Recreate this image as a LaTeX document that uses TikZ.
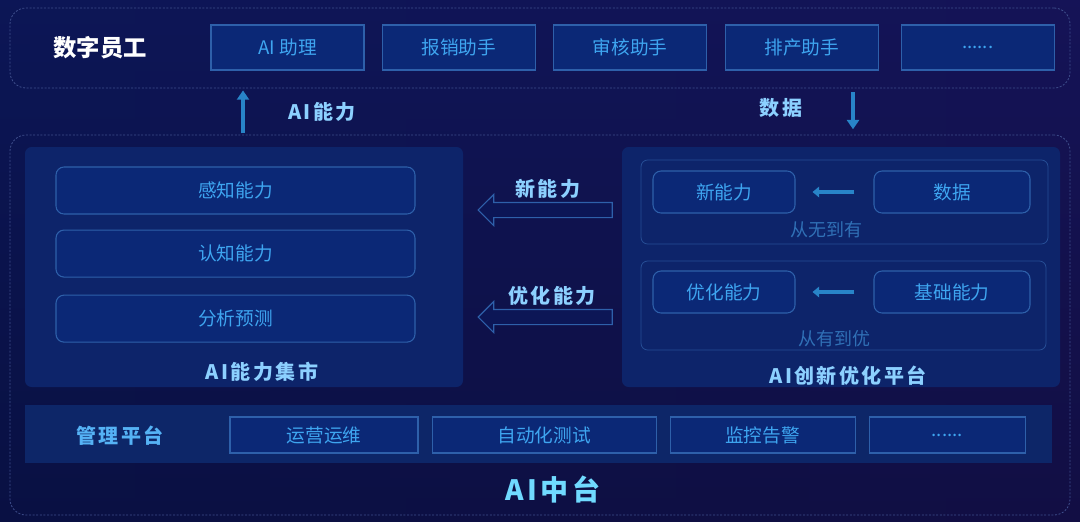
\documentclass[tikz,border=0pt]{standalone}
\usepackage{fontspec}
\setmainfont{Noto Sans CJK SC}
\newfontfamily\widefont[LetterSpace=12]{Noto Sans CJK SC}
\usepackage{tikz}
\usetikzlibrary{positioning,shapes.arrows,arrows.meta,calc}

\definecolor{bgtop}{RGB}{12,22,86}
\definecolor{bgbot}{RGB}{6,11,48}
\definecolor{bgright}{RGB}{30,18,88}
\definecolor{panelfill}{RGB}{13,36,106}
\definecolor{bandfill}{RGB}{13,38,104}
\definecolor{boxfill}{RGB}{11,40,118}
\definecolor{boxline}{RGB}{46,96,170}
\definecolor{grpline}{RGB}{38,78,150}
\definecolor{txtblue}{RGB}{62,165,240}
\definecolor{titleblue}{RGB}{140,208,255}
\definecolor{dashline}{RGB}{62,78,140}
\definecolor{dimtxt}{RGB}{48,112,182}
\definecolor{arrowblue}{RGB}{40,132,200}

\begin{document}
\begin{tikzpicture}
[x=0.75pt,y=-0.75pt,
 >={Triangle[width=9pt,length=7pt]},
 frame/.style={draw=dashline,dash pattern=on 1.5pt off 1.2pt,line width=0.6pt,rounded corners=12pt},
 panel/.style={fill=panelfill,rounded corners=5pt},
 topbox/.style={draw=boxline,fill=boxfill,line width=0.8pt,text=txtblue,
   minimum width=114.75pt,minimum height=33.75pt,inner sep=0pt,font=\fontsize{14}{16}\selectfont},
 capbox/.style={topbox,rounded corners=6pt,minimum width=269.25pt,minimum height=35.25pt},
 stagebox/.style={topbox,rounded corners=6pt,minimum height=31.5pt},
 group/.style={draw=grpline,line width=0.6pt,rounded corners=5pt},
 mgmtbox/.style={topbox,minimum height=27pt},
 title/.style={text=titleblue,font=\widefont\bfseries\fontsize{15}{17}\selectfont},
 dimlabel/.style={text=dimtxt,font=\fontsize{13.5}{15}\selectfont},
 flowarr/.style={->,draw=arrowblue,line width=3pt},
 stagearr/.style={-{Triangle[width=8pt,length=5pt]},draw=arrowblue,line width=3pt,
   shorten <=14.25pt,shorten >=12.75pt},
 hollow/.style={single arrow,shape border rotate=180,draw=boxline,fill=bgtop,line width=0.8pt,
   minimum height=100.5pt,minimum width=22.5pt,single arrow head extend=6pt,
   inner xsep=0pt,inner ysep=5.25pt}]

% background
\shade[top color=bgtop,bottom color=bgbot] (0,0) rectangle (1080,521);
\shade[left color=bgtop,right color=bgright,fill opacity=0.5] (0,0) rectangle (1080,521);
\useasboundingbox (0,0) rectangle (1080,521);

% digital staff
\node[frame,minimum width=795pt,minimum height=60pt] (staff) at (540,48) {};
\node[text=white,font=\bfseries\fontsize{17.5}{20}\selectfont] (stafftitle) at (100,48) {数字员工};
\node[topbox] (t1) at (287.5,47.5) {AI 助理};
\node[topbox,right=13pt of t1] (t2) {报销助手};
\node[topbox,right=13pt of t2] (t3) {审核助手};
\node[topbox,right=13pt of t3] (t4) {排产助手};
\node[topbox,right=16.5pt of t4] (t5) {......};

% AI middle platform
\node[frame,minimum width=795pt,minimum height=285pt] (core) at (540,325) {};
\coordinate (upx) at (243,0);
\coordinate (downx) at (853,0);
\draw[flowarr,shorten <=1pt,shorten >=1.5pt] (core.north -| upx) -- (staff.south -| upx);
\draw[flowarr,shorten <=3pt,shorten >=4pt] (staff.south -| downx) -- (core.north -| downx);
\node[title] (upl) at (322,112) {AI能力};
\node[title] (downl) at (781,108) {数据};

% capability market
\node[panel,minimum width=328.5pt,minimum height=180pt] (market) at (244,267) {};
\node[capbox] (c1) at (235.5,190.5) {感知能力};
\node[capbox,below=11.25pt of c1] (c2) {认知能力};
\node[capbox,below=12.75pt of c2] (c3) {分析预测};
\node[title] (marketl) at (262,372) {AI能力集市};

% innovation platform
\node[panel,minimum width=328.5pt,minimum height=180pt] (innov) at (841,267) {};
\node[group,minimum width=305.25pt,minimum height=63pt] (g1) at (844.5,202) {};
\node[group,minimum width=303.75pt,minimum height=66.75pt] (g2) at (843.5,305.5) {};
\node[stagebox,minimum width=106.5pt] (newcap) at (724,192) {新能力};
\node[stagebox,minimum width=117pt] (data) at (952,192) {数据};
\node[stagebox,minimum width=106.5pt] (optcap) at (724,292) {优化能力};
\node[stagebox,minimum width=117pt] (basecap) at (952,292) {基础能力};
\node[dimlabel] (g1l) at (826,230) {从无到有};
\node[dimlabel] (g2l) at (834,339) {从有到优};
\node[title] (innovl) at (848,376) {AI创新优化平台};

\draw[stagearr] (data) -- (newcap);
\draw[stagearr] (basecap) -- (optcap);

% feedback arrows
\node[hollow] (h1) at ($(market.east)!0.5!(innov.west)+(6.5,-57)$) {};
\node[hollow] (h2) at ($(market.east)!0.5!(innov.west)+(6.5,50)$) {};
\node[title] (h1l) at (548,189) {新能力};
\node[title] (h2l) at (552,296) {优化能力};

% management platform
\node[fill=bandfill,minimum width=770.25pt,minimum height=43.5pt] (band) at (538.5,434) {};
\node[title,text=txtblue!70!titleblue] (bandl) at (120,436) {管理平台};
\node[mgmtbox,minimum width=141pt] (m1) at (324,435) {运营运维};
\node[mgmtbox,minimum width=168pt,right=9.75pt of m1] (m2) {自动化测试};
\node[mgmtbox,minimum width=138.75pt,right=9.75pt of m2] (m3) {监控告警};
\node[mgmtbox,minimum width=117pt,right=9.75pt of m3] (m4) {......};
\node[text=titleblue!80!cyan,font=\widefont\bfseries\fontsize{21}{24}\selectfont] (corel) at (553,490) {AI中台};
\end{tikzpicture}
\end{document}
